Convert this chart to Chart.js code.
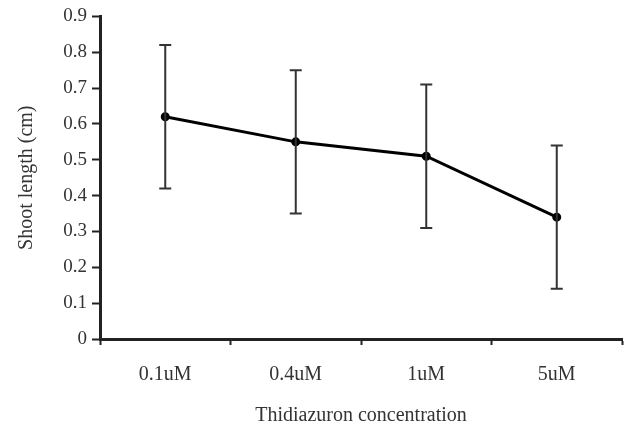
<!DOCTYPE html>
<html>
<head>
<meta charset="utf-8">
<script src="https://cdn.jsdelivr.net/npm/chart.js@4"></script>
<style>
  html, body { margin: 0; padding: 0; background: #fff; }
  #wrap { width: 633px; height: 432px; }
</style>
</head>
<body>
<div id="wrap"><canvas id="shoot-chart" width="633" height="432"></canvas></div>
<script>
const concentrations = ["0.1uM", "0.4uM", "1uM", "5uM"];
const shootLength = [0.62, 0.55, 0.51, 0.34];
const errorHigh = [0.82, 0.75, 0.71, 0.54];
const errorLow = [0.42, 0.35, 0.31, 0.14];
const ink = "#222";
const serif = "'Liberation Serif', 'Times New Roman', serif";

// draw the error bars from errorLow / errorHigh through the y scale
const errorBars = {
   id: "errorBars",
   afterDatasetsDraw(chart) {
      const ctx = chart.ctx;
      const x = chart.scales.x;
      const y = chart.scales.y;
      ctx.save();
      ctx.strokeStyle = "#333";
      ctx.lineWidth = 2;
      concentrations.forEach((c, i) => {
         const px = x.getPixelForValue(i);
         const top = y.getPixelForValue(errorHigh[i]);
         const bot = y.getPixelForValue(errorLow[i]);
         ctx.beginPath();
         ctx.moveTo(px, top);
         ctx.lineTo(px, bot);
         ctx.moveTo(px - 6, top);
         ctx.lineTo(px + 6, top);
         ctx.moveTo(px - 6, bot);
         ctx.lineTo(px + 6, bot);
         ctx.stroke();
      });
      ctx.restore();
   }
};

new Chart("shoot-chart", {
   type: "line",
   data: {
      labels: concentrations,
      datasets: [
         {
            data: shootLength,
            borderColor: "#000",
            borderWidth: 3,
            pointRadius: 3,
            pointBackgroundColor: "#000",
            pointBorderColor: "#000",
            tension: 0
         }
      ]
   },
   plugins: [errorBars],
   options: {
      responsive: false,
      animation: false,
      layout: {
         padding: { left: 11, right: 11, top: 12, bottom: 0 }
      },
      plugins: {
         legend: { display: false },
         tooltip: { enabled: false }
      },
      scales: {
         x: {
            offset: true,
            afterFit: (scale) => { scale.height = 93; },
            grid: {
               offset: true,
               drawOnChartArea: false,
               drawTicks: true,
               tickLength: 6,
               tickWidth: 2,
               tickColor: ink
            },
            border: { display: true, color: ink, width: 3 },
            ticks: {
               color: "#333",
               font: { family: serif, size: 20 },
               padding: 18,
               maxRotation: 0
            },
            title: {
               display: true,
               text: "Thidiazuron concentration",
               color: "#333",
               font: { family: serif, size: 20 },
               padding: { top: 12 }
            }
         },
         y: {
            min: 0,
            max: 0.9,
            afterFit: (scale) => { scale.width = 89; },
            grid: {
               drawOnChartArea: false,
               drawTicks: true,
               tickLength: 8,
               tickWidth: 2,
               tickColor: ink
            },
            border: { display: true, color: ink, width: 3 },
            ticks: {
               stepSize: 0.1,
               color: "#333",
               font: { family: serif, size: 19 },
               padding: 5
            },
            title: {
               display: true,
               text: "Shoot length (cm)",
               color: "#333",
               font: { family: serif, size: 20 },
               padding: { bottom: 6 }
            }
         }
      }
   }
});
</script>
</body>
</html>
